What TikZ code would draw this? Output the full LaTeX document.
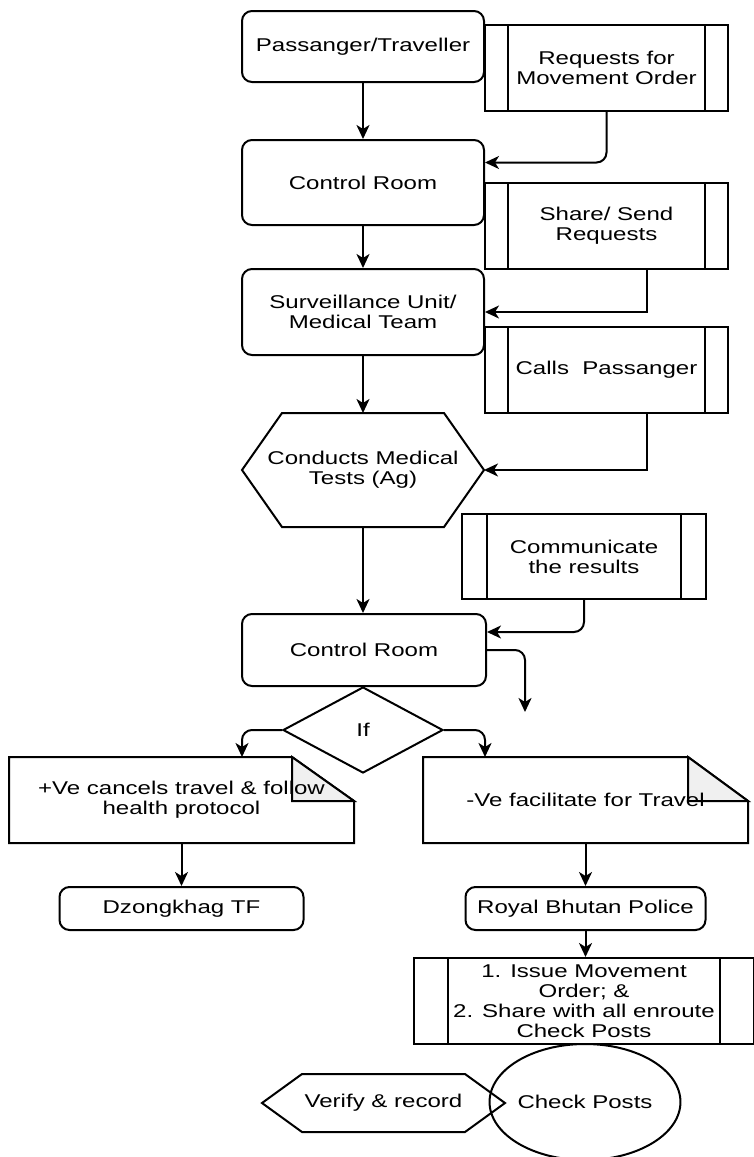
\documentclass[tikz,border=0pt]{standalone}
\usepackage{fontspec}
\setmainfont{Liberation Sans}[FakeStretch=1.3]
\usetikzlibrary{arrows.meta,shapes.geometric,backgrounds}

\tikzset{
    flow/.style={line width=1pt, -{Stealth[length=7pt,width=6.5pt,inset=2pt]}},
    outline/.style={line width=1pt},
    roundbox/.style={draw, line width=1pt, rounded corners=5pt, align=center,
        minimum width=121pt, minimum height=42.5pt, inner sep=0pt},
    procbox/.style={draw, fill=white, line width=1pt, align=center,
        minimum width=121.5pt, minimum height=43pt, inner sep=0pt,
        path picture={
            \draw[line width=1pt] ([xshift=#1]path picture bounding box.north west) -- ([xshift=#1]path picture bounding box.south west);
            \draw[line width=1pt] ([xshift=-#1]path picture bounding box.north east) -- ([xshift=-#1]path picture bounding box.south east);
        }},
    procbox/.default=11.5pt,
    plain/.style={align=center, inner sep=0pt, outer sep=0pt},
}

\begin{document}
\begin{tikzpicture}[x=0.5pt, y=-0.5pt, font=\fontsize{9.25}{10}\selectfont]
    \clip (0,0) rectangle (754,1157);

    \node [roundbox, minimum height=35.5pt] (pass) at (363,46.5) {Passanger/Traveller};
    \node [procbox] (req) at (606.5,68) {Requests for\\Movement Order};
    \node [roundbox] (room1) at (363,182.5) {Control Room};
    \node [procbox] (share) at (606.5,226) {Share/ Send\\Requests};
    \node [roundbox, minimum height=43pt] (surv) at (363,312) {Surveillance Unit/\\Medical Team};
    \node [procbox] (calls) at (606.5,370) {Calls~ Passanger};
    \node [plain, minimum width=121pt, minimum height=57pt] (tests) at (363,470) {Conducts Medical\\Tests (Ag)};
    \node [procbox=12.5pt, minimum width=122pt, minimum height=42.5pt] (comm) at (584,556.5) {Communicate\\the results};
    \node [roundbox, minimum width=122pt, minimum height=36pt] (room2) at (364,650) {Control Room};
    \node [diamond, draw, line width=1pt, minimum width=80pt, minimum height=43pt, inner sep=0pt] (cond) at (363,730) {If};
    \node [plain, minimum width=172.5pt, minimum height=43pt] (posv) at (181.5,800) {+Ve cancels travel \& follow\\health protocol};
    \node [plain, minimum width=162.5pt, minimum height=43pt] (negv) at (585.5,800) {-Ve facilitate for Travel};
    \node [roundbox, minimum width=122pt, minimum height=21.5pt] (dzong) at (181.5,908.5) {Dzongkhag TF};
    \node [roundbox, minimum width=120pt, minimum height=21.5pt] (rbp) at (585.5,908.5) {Royal Bhutan Police};
    \node [ellipse, draw, line width=1pt, minimum width=80pt, minimum height=58pt, inner sep=0pt] (posts) at (585,1102) {Check Posts};
    \node [procbox=17pt, minimum width=170pt, minimum height=43pt] (issue) at (584,1001) {1. Issue Movement\\Order; \&\\2. Share with all enroute\\Check Posts};
    \node [plain, minimum width=121.5pt, minimum height=29pt] (verify) at (383.5,1103) {Verify \& record};

    % hexagons
    \draw [outline] ([xshift=20pt]tests.north west) -- ([xshift=-20pt]tests.north east) -- (tests.east)
        -- ([xshift=-20pt]tests.south east) -- ([xshift=20pt]tests.south west) -- (tests.west) -- cycle;
    \draw [outline] ([xshift=20pt]verify.north west) -- ([xshift=-20pt]verify.north east) -- (verify.east)
        -- ([xshift=-20pt]verify.south east) -- ([xshift=20pt]verify.south west) -- (verify.west) -- cycle;

    % notes with folded corner
    \begin{scope}[on background layer]
        \draw [outline] (posv.north west) -- ([xshift=-31pt]posv.north east) -- ([yshift=-22pt]posv.north east)
            -- (posv.south east) -- (posv.south west) -- cycle;
        \filldraw [outline, fill=gray!12] ([xshift=-31pt]posv.north east) -- ([xshift=-31pt,yshift=-22pt]posv.north east)
            -- ([yshift=-22pt]posv.north east) -- cycle;
        \draw [outline] (negv.north west) -- ([xshift=-30pt]negv.north east) -- ([yshift=-22pt]negv.north east)
            -- (negv.south east) -- (negv.south west) -- cycle;
        \filldraw [outline, fill=gray!12] ([xshift=-30pt]negv.north east) -- ([xshift=-30pt,yshift=-22pt]negv.north east)
            -- ([yshift=-22pt]negv.north east) -- cycle;
    \end{scope}

    \coordinate (loose) at (525,712);

    \draw [flow] (pass.south) -- (room1.north);
    \draw [flow, rounded corners=5pt] (req.south) |- ([yshift=10pt]room1.east);
    \draw [flow] (room1.south) -- (surv.north);
    \draw [flow] ([xshift=20.25pt]share.south) |- (surv.east);
    \draw [flow] (surv.south) -- (tests.north);
    \draw [flow] ([xshift=20.25pt]calls.south) |- (tests.east);
    \draw [flow] (tests.south) -- (tests.south |- room2.north);
    \draw [flow, rounded corners=5pt] (comm.south) |- ([yshift=9pt]room2.east);
    \draw [flow, rounded corners=5pt] (room2.east) -| (loose);
    \draw [flow, rounded corners=5pt] (cond.west) -| ([xshift=30.25pt]posv.north);
    \draw [flow, rounded corners=5pt] (cond.east) -| ([xshift=-50.25pt]negv.north);
    \draw [flow] (posv.south) -- (dzong.north);
    \draw [flow] (negv.south) -- (rbp.north);
    \draw [flow] (rbp.south) -- (rbp.south |- issue.north);
\end{tikzpicture}
\end{document}
